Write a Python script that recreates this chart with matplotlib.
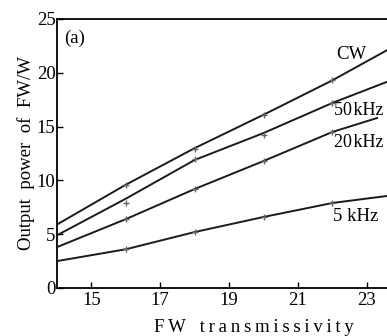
import matplotlib
matplotlib.use("Agg")
import matplotlib.pyplot as plt

plt.rcParams['font.family'] = ['Liberation Serif', 'DejaVu Serif']

x_line = [14, 16, 18, 20, 22, 23.7]
cw = [5.9, 9.6, 13.0, 16.1, 19.3, 22.3]
khz50 = [4.9, 8.3, 11.9, 14.4, 17.2, 19.3]
khz20_x = [14, 16, 18, 20, 22, 23.3]
khz20 = [3.8, 6.4, 9.2, 11.8, 14.5, 15.8]
khz5 = [2.5, 3.6, 5.2, 6.6, 7.9, 8.6]

x_meas = [16, 18, 20, 22]
cw_meas = [9.6, 12.9, 16.1, 19.3]
khz50_meas = [7.9, 12.0, 14.2, 17.2]
khz20_meas = [6.4, 9.2, 11.8, 14.5]
khz5_meas = [3.6, 5.2, 6.6, 7.9]

labels = ["CW", "50\u200akHz", "20\u200akHz", "5 kHz"]

fig = plt.figure(figsize=(3.87, 3.36), dpi=100)
ax = fig.add_axes([57/387, 1-288/336, 1-57/387+0.01, 269/336])

series = [(x_line, cw, cw_meas), (x_line, khz50, khz50_meas),
          (khz20_x, khz20, khz20_meas), (x_line, khz5, khz5_meas)]
for xl, yl, ym in series:
    ax.plot(xl, yl, color='#1a1a1a', lw=1.4, zorder=3)
    ax.plot(x_meas, ym, linestyle='none', marker='+', ms=5, mew=1.0, color='#666666', zorder=4)

ax.set_xlim(14, 23.7)
ax.set_ylim(0, 25)
ax.set_xticks([15, 17, 19, 21, 23])
ax.set_yticks([0, 5, 10, 15, 20, 25])
ax.tick_params(direction='in', labelsize=13.5, length=4, width=1, pad=3)
ax.tick_params(axis='y', pad=1)
for s in ['left', 'bottom', 'top']:
    ax.spines[s].set_linewidth(1.3)
ax.spines['right'].set_visible(False)

sp = "\u2009"
xl_text = sp.join("FW") + "   " + sp.join("transmissivity")
ax.set_xlabel(xl_text, fontsize=13.5)
ax.xaxis.set_label_coords((254 - 57) / (387 - 57 + 3.87), -(327 - 288) / 269, transform=ax.transAxes)
ax.xaxis.label.set_va('center')
ax.set_ylabel("Output  power  of  FW/W", fontsize=13.5, labelpad=1)

ax.text(14.22, 23.2, "(a)", fontsize=13.5, va='center', ha='left')
ax.text(22.1, 21.7, labels[0], fontsize=13.5, va='center', ha='left')
ax.text(22.05, 16.5, labels[1], fontsize=13, va='center', ha='left')
ax.text(22.05, 13.5, labels[2], fontsize=13, va='center', ha='left')
ax.text(22.03, 6.6, labels[3], fontsize=13.5, va='center', ha='left')

fig.savefig("out.png", dpi=100)
